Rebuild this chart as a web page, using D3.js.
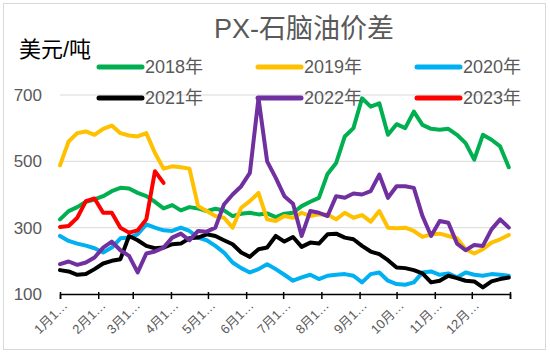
<!DOCTYPE html>
<html>
<head>
<meta charset="utf-8">
<script src="https://cdn.jsdelivr.net/npm/d3@7"></script>
<style>
    body {margin: 0; background: #fff;}
    text {font-family: "Liberation Sans", "Noto Sans CJK SC", sans-serif;}
</style>
</head>
<body>
<div id="chart"></div>
<script>
// weekly readings, week 0 = Jan 1
const s2018=[325, 350, 362, 378, 385, 395, 410, 420, 418, 405, 395, 378, 358, 368, 352, 362, 358, 350, 357, 352, 335, 342, 345, 340, 343, 332, 342, 345, 365, 378, 390, 462, 495, 575, 600, 690, 665, 675, 580, 612, 600, 650, 610, 598, 595, 598, 580, 555, 505, 580, 565, 545, 482];
const s2019=[488, 560, 585, 590, 580, 598, 608, 585, 578, 575, 585, 525, 478, 485, 482, 478, 365, 350, 335, 330, 300, 360, 380, 405, 325, 320, 335, 330, 345, 335, 340, 340, 325, 345, 330, 338, 318, 350, 300, 298, 300, 290, 272, 280, 282, 275, 268, 235, 222, 235, 255, 265, 278];
const s2020=[275, 260, 252, 246, 238, 225, 240, 268, 270, 280, 310, 300, 292, 290, 300, 290, 270, 262, 245, 225, 195, 178, 165, 175, 190, 175, 158, 140, 150, 158, 145, 155, 158, 160, 155, 135, 160, 165, 140, 130, 128, 135, 165, 168, 158, 162, 150, 165, 158, 155, 160, 158, 155];
const s2021=[172, 168, 158, 160, 175, 192, 200, 205, 275, 262, 245, 238, 240, 250, 252, 268, 270, 280, 275, 262, 250, 225, 212, 235, 240, 275, 258, 272, 242, 255, 252, 280, 282, 270, 265, 245, 228, 220, 202, 180, 178, 172, 162, 135, 140, 155, 148, 140, 138, 120, 138, 145, 150];
const s2022=[190, 198, 188, 195, 210, 240, 258, 232, 215, 165, 222, 228, 240, 270, 282, 262, 290, 288, 300, 370, 400, 425, 465, 690, 500, 450, 395, 372, 275, 350, 345, 335, 395, 390, 403, 400, 410, 460, 390, 425, 425, 420, 335, 275, 320, 315, 252, 232, 248, 245, 295, 325, 300];
const s2023=[302, 305, 330, 380, 388, 345, 345, 300, 285, 292, 325, 470, 435];

const seriesNames=["2018年", "2019年", "2020年", "2021年", "2022年", "2023年"];
const seriesColors=["#00b050", "#ffc000", "#00b0f0", "#000000", "#7030a0", "#ff0000"];
const yTicks=[100, 300, 500, 700];
const monthLabels=["1月1…", "2月1…", "3月1…", "4月1…", "5月1…", "6月1…", "7月1…", "8月1…", "9月1…", "10月…", "11月…", "12月…"];

document.addEventListener("DOMContentLoaded", function () {
    const width=550;
    const height=354;
    const start=new Date(2021, 0, 1);
    const end=new Date(2022, 0, 1);

    const allSeries=[s2018, s2019, s2020, s2021, s2022, s2023].map((vals, k) => ({
        name: seriesNames[k],
        color: seriesColors[k],
        points: vals.map((v, i) => ({date: d3.timeDay.offset(start, 7*i), value: v}))
    }));

    const x=d3.scaleTime().domain([start, end]).range([60, 510]);
    const y=d3.scaleLinear().domain([100, 700]).range([294, 95]);

    const svg=d3.select("#chart")
        .append("svg")
        .attr("width", width)
        .attr("height", height);

    svg.append("rect")
        .attr("x", 3.5).attr("y", 3.5)
        .attr("width", 542).attr("height", 346)
        .attr("fill", "#fff")
        .attr("stroke", "#d9d9d9");

    // grid
    svg.selectAll(".grid")
        .data(yTicks.slice(1))
        .enter().append("line")
        .attr("class", "grid")
        .attr("x1", 60).attr("x2", 510)
        .attr("y1", d => y(d)).attr("y2", d => y(d))
        .attr("stroke", "#d9d9d9")
        .attr("stroke-width", 1);

    svg.selectAll(".ylab")
        .data(yTicks)
        .enter().append("text")
        .attr("class", "ylab")
        .attr("x", 42)
        .attr("y", d => y(d))
        .attr("dy", "0.35em")
        .attr("text-anchor", "end")
        .attr("font-size", 17)
        .attr("fill", "#595959")
        .text(d => d);

    // x axis
    const monthStarts=d3.timeMonth.range(start, d3.timeDay.offset(end, 1));
    const xAxis=d3.axisBottom(x)
        .tickValues(monthStarts)
        .tickSize(5)
        .tickFormat("");
    const gx=svg.append("g")
        .attr("transform", `translate(0,${y(100)})`)
        .call(xAxis);
    gx.select(".domain").attr("stroke", "#000").attr("stroke-width", 1.5);
    gx.selectAll(".tick line").attr("stroke", "#000").attr("stroke-width", 1.5).attr("y1", -2);

    svg.selectAll(".xlab")
        .data(monthLabels)
        .enter().append("text")
        .attr("class", "xlab")
        .attr("transform", (d, i) => `translate(${x(monthStarts[i])+5},${y(100)+9}) rotate(-45)`)
        .attr("text-anchor", "end")
        .attr("dy", "0.35em")
        .attr("font-size", 13)
        .attr("fill", "#595959")
        .text(d => d);

    // lines
    const line=d3.line()
        .x(d => x(d.date))
        .y(d => y(d.value));

    svg.selectAll(".series")
        .data(allSeries)
        .enter().append("path")
        .attr("class", "series")
        .attr("d", d => line(d.points))
        .attr("fill", "none")
        .attr("stroke", d => d.color)
        .attr("stroke-width", 4)
        .attr("stroke-linejoin", "round")
        .attr("stroke-linecap", "round");

    // legend
    const legend=svg.selectAll(".legend")
        .data(allSeries)
        .enter().append("g")
        .attr("class", "legend")
        .attr("transform", (d, i) => `translate(${[99, 258, 417][i%3]},${i<3 ? 67 : 98})`);

    legend.append("line")
        .attr("x1", 0).attr("x2", 43)
        .attr("stroke", d => d.color)
        .attr("stroke-width", 5)
        .attr("stroke-linecap", "round");

    legend.append("text")
        .attr("x", 46)
        .attr("dy", "0.35em")
        .attr("font-size", 18)
        .attr("fill", "#595959")
        .text(d => d.name);

    svg.append("text")
        .attr("x", 304)
        .attr("y", 38)
        .attr("text-anchor", "middle")
        .attr("font-size", 27)
        .attr("fill", "#595959")
        .text("PX-石脑油价差");

    svg.append("text")
        .attr("x", 19)
        .attr("y", 57)
        .attr("font-size", 22)
        .attr("fill", "#000")
        .text("美元/吨");
});
</script>
</body>
</html>
